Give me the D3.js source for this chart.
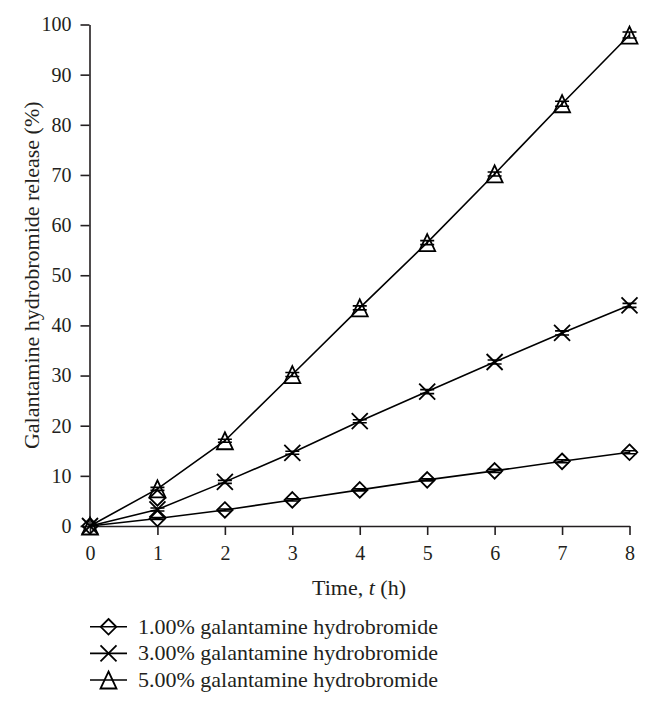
<!DOCTYPE html>
<html>
<head>
<meta charset="utf-8">
<script src="https://cdn.jsdelivr.net/npm/d3@7"></script>
<style>
  html, body { margin: 0; padding: 0; background: #fff; }
  svg text { font-family: "Liberation Serif", "Times New Roman", serif !important; fill: #231f20; }
</style>
</head>
<body>
<svg id="chart" width="654" height="708"></svg>
<script>
// ---- data ----
const times = [0, 1, 2, 3, 4, 5, 6, 7, 8];
const xTicks = [0, 1, 2, 3, 4, 5, 6, 7, 8];
const yTicks = [0, 10, 20, 30, 40, 50, 60, 70, 80, 90, 100];
const seriesNames = [
  "1.00% galantamine hydrobromide",
  "3.00% galantamine hydrobromide",
  "5.00% galantamine hydrobromide"
];
const release1 = [0, 1.5, 3.2, 5.2, 7.2, 9.2, 11.0, 12.9, 14.7];
const release3 = [0, 3.3, 8.8, 14.6, 20.9, 26.8, 32.7, 38.5, 44.0];
const release5 = [0, 7.4, 17.0, 30.2, 43.5, 56.5, 70.2, 84.2, 97.9];
const error1 = [0, 0.2, 0.2, 0.2, 0.2, 0.2, 0.3, 0.3, 0.3];
const error3 = [0, 0.3, 0.3, 0.3, 0.3, 0.4, 0.4, 0.4, 0.4];
const error5 = [0, 0.3, 0.3, 0.4, 0.4, 0.4, 0.4, 0.5, 0.6];
const markerTypes = ["diamond", "cross", "triangle"];
// stray diamond marker visible at t = 1 in the original figure
const strayDiamond = [{ t: 1, v: 5.6 }];

// ---- layout ----
const svg = d3.select("#chart");
const x = d3.scaleLinear().domain([0, 8]).range([90, 629.5]);
const y = d3.scaleLinear().domain([0, 100]).range([526, 24.5]);
const ink = "#231f20";
const serif = "'Liberation Serif', 'Times New Roman', serif";

// axes
const yAxis = d3.axisLeft(y).tickValues(yTicks).tickSize(9).tickSizeOuter(0).tickPadding(9);
const xAxis = d3.axisBottom(x).tickValues(xTicks).tickSize(9).tickSizeOuter(0).tickPadding(11);

const gy = svg.append("g").attr("transform", `translate(${x(0) - 0.5},0)`).call(yAxis);
const gx = svg.append("g").attr("transform", `translate(0,${y(0)})`).call(xAxis);
[gx, gy].forEach(g => {
  g.attr("font-family", serif).attr("font-size", 20);
  g.select(".domain").attr("stroke", ink).attr("stroke-width", 1.6);
  g.selectAll(".tick line").attr("stroke", ink).attr("stroke-width", 1.6);
  g.selectAll(".tick text").style("font-family", serif).style("font-size", "20px").attr("fill", ink);
});

// axis titles
const xt = svg.append("text").attr("x", 359).attr("y", 595).attr("text-anchor", "middle")
  .style("font-size", "22px").style("font-family", serif);
xt.append("tspan").text("Time, ");
xt.append("tspan").attr("font-style", "italic").text("t");
xt.append("tspan").text(" (h)");

svg.append("text")
  .attr("transform", `translate(39,${(y(0) + y(100)) / 2}) rotate(-90)`)
  .attr("text-anchor", "middle").style("font-size", "22px").style("font-family", serif)
  .text("Galantamine hydrobromide release (%)");

// marker drawing
function drawMarker(g, type, cx, cy) {
  if (type === "diamond") {
    const r = 7.8;
    g.append("path").attr("d", `M${cx},${cy - r}L${cx + r},${cy}L${cx},${cy + r}L${cx - r},${cy}Z`)
      .attr("fill", "none").attr("stroke", "#000").attr("stroke-width", 1.8);
  } else if (type === "cross") {
    const r = 8;
    g.append("path").attr("d", `M${cx - r},${cy - r}L${cx + r},${cy + r}M${cx - r},${cy + r}L${cx + r},${cy - r}`)
      .attr("fill", "none").attr("stroke", "#000").attr("stroke-width", 1.8);
  } else {
    const w = 8, h = 8.5;
    g.append("path").attr("d", `M${cx},${cy - h}L${cx + w},${cy + h}L${cx - w},${cy + h}Z`)
      .attr("fill", "none").attr("stroke", "#000").attr("stroke-width", 1.8);
  }
}

const allSeries = [release1, release3, release5];
const allErrors = [error1, error3, error5];
const line = d3.line().x((d, i) => x(times[i])).y(d => y(d));

allSeries.forEach((vals, si) => {
  const g = svg.append("g");
  g.append("path").attr("d", line(vals)).attr("fill", "none").attr("stroke", "#000").attr("stroke-width", 1.6);
  vals.forEach((v, i) => {
    const cx = x(times[i]), cy = y(v);
    const e = allErrors[si][i];
    if (e > 0) {
      const capW = 7;
      g.append("path")
        .attr("d", `M${cx},${y(v + e)}V${y(v - e)}M${cx - capW},${y(v + e)}H${cx + capW}M${cx - capW},${y(v - e)}H${cx + capW}`)
        .attr("fill", "none").attr("stroke", "#000").attr("stroke-width", 1.6);
    }
    drawMarker(g, markerTypes[si], cx, cy);
  });
});

// stray marker
strayDiamond.forEach(d => drawMarker(svg.append("g"), "diamond", x(d.t), y(d.v)));

// legend
const legendRows = [626.8, 653.4, 680];
seriesNames.forEach((name, i) => {
  const g = svg.append("g");
  const cy = legendRows[i];
  g.append("line").attr("x1", 90).attr("x2", 127).attr("y1", cy).attr("y2", cy)
    .attr("stroke", "#000").attr("stroke-width", 1.6);
  drawMarker(g, markerTypes[i], 108.5, cy);
  g.append("text").attr("x", 138).attr("y", cy + 7).style("font-size", "22px").style("font-family", serif).text(name);
});
</script>
</body>
</html>
